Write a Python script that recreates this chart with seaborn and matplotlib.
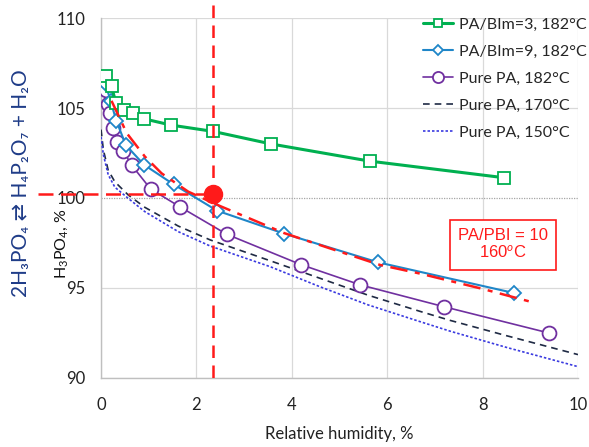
import matplotlib
matplotlib.use("Agg")
import matplotlib.pyplot as plt
import pandas as pd
import seaborn as sns

# Measured water uptake data: relative humidity (%) vs. H3PO4 concentration (%)
rh_bim3 = [0.10, 0.22, 0.31, 0.49, 0.68, 0.90, 1.47, 2.35, 3.57, 5.63, 8.44]
pa_bim3 = [106.8, 106.2, 105.3, 104.9, 104.7, 104.4, 104.05, 103.7, 103.0, 102.05, 101.13]

rh_bim9 = [0.09, 0.20, 0.32, 0.52, 0.90, 1.52, 2.43, 3.84, 5.80, 8.66]
pa_bim9 = [106.37, 105.4, 104.3, 102.94, 101.85, 100.76, 99.3, 98.02, 96.43, 94.72]

rh_pa182 = [0.10, 0.15, 0.19, 0.245, 0.34, 0.47, 0.64, 1.04, 1.66, 2.64, 4.19, 5.44, 7.19, 9.39]
pa_pa182 = [106.0, 105.2, 104.7, 103.9, 103.1, 102.6, 101.83, 100.5, 99.5, 97.98, 96.3, 95.17, 93.96, 92.5]

rh_pa170 = [0.0, 0.05, 0.15, 0.29, 0.57, 0.92, 1.62, 2.29, 3.54, 4.59, 5.6, 6.69, 7.32, 8.5, 10.0]
pa_pa170 = [103.8, 102.67, 101.55, 100.9, 100.17, 99.48, 98.44, 97.67, 96.52, 95.54, 94.6, 93.7, 93.2, 92.35, 91.3]

rh_pa150 = [0.0, 0.05, 0.15, 0.29, 0.57, 0.92, 1.62, 2.29, 3.54, 4.59, 5.6, 6.69, 7.32, 8.5, 10.0]
pa_pa150 = [103.4, 102.4, 101.3, 100.6, 99.98, 99.24, 98.13, 97.33, 96.19, 95.07, 94.06, 93.13, 92.6, 91.7, 90.63]

# PA/PBI = 10 membrane at 160 °C
rh_pbi = [0.22, 0.54, 0.92, 1.27, 1.83, 2.49, 3.19, 3.84, 4.8, 5.85, 6.69, 8.0, 9.0]
pa_pbi = [105.4, 103.6, 102.3, 101.37, 100.35, 99.56, 98.78, 98.05, 97.2, 96.28, 95.8, 94.95, 94.24]

# Operating point
op_rh = 2.35
op_pa = 100.2

series_labels = ["PA/BIm=3, 182°C", "PA/BIm=9, 182°C", "Pure PA, 182°C",
                 "Pure PA, 170°C", "Pure PA, 150°C"]

x_ticks = [0, 2, 4, 6, 8, 10]
y_ticks = [90, 95, 100, 105, 110]

sns.set_style("white")
plt.rcParams['font.family'] = ['Lato', 'DejaVu Sans']
plt.rcParams['mathtext.fontset'] = 'custom'
plt.rcParams['mathtext.rm'] = 'Lato'
plt.rcParams['mathtext.it'] = 'Lato:italic'
plt.rcParams['mathtext.bf'] = 'Lato:bold'

fig = plt.figure(figsize=(5.89, 4.47), dpi=100)
ax = fig.add_axes([0.1715, 0.1544, 0.8098, 0.8053])

green = "#00b050"
blue = "#1f86c8"
purple = "#7030a0"
navy = "#1f2a44"
dotblue = "#3a3ae0"
red = "#ff1a1a"

df170 = pd.DataFrame({"rh": rh_pa170, "pa": pa_pa170})
df150 = pd.DataFrame({"rh": rh_pa150, "pa": pa_pa150})
df182 = pd.DataFrame({"rh": rh_pa182, "pa": pa_pa182})
df9 = pd.DataFrame({"rh": rh_bim9, "pa": pa_bim9})
df3 = pd.DataFrame({"rh": rh_bim3, "pa": pa_bim3})
dfpbi = pd.DataFrame({"rh": rh_pbi, "pa": pa_pbi})

sns.lineplot(data=df170, x="rh", y="pa", ax=ax, sort=False, estimator=None,
             color=navy, linestyle=(0, (4, 3)), linewidth=1.2, label=series_labels[3], zorder=3)
sns.lineplot(data=df150, x="rh", y="pa", ax=ax, sort=False, estimator=None,
             color=dotblue, linestyle=(0, (1.5, 1.2)), linewidth=1.2, label=series_labels[4], zorder=3)
sns.lineplot(data=df182, x="rh", y="pa", ax=ax, sort=False, estimator=None,
             color=purple, linewidth=1.2, marker="o", markersize=10,
             markerfacecolor="white", markeredgecolor=purple, markeredgewidth=1.3,
             label=series_labels[2], zorder=4)
sns.lineplot(data=df9, x="rh", y="pa", ax=ax, sort=False, estimator=None,
             color=blue, linewidth=1.5, marker="D", markersize=7,
             markerfacecolor="white", markeredgecolor=blue, markeredgewidth=1.3,
             label=series_labels[1], zorder=5)
sns.lineplot(data=df3, x="rh", y="pa", ax=ax, sort=False, estimator=None,
             color=green, linewidth=2.2, marker="s", markersize=8,
             markerfacecolor="white", markeredgecolor=green, markeredgewidth=1.3,
             label=series_labels[0], zorder=6)
sns.lineplot(data=dfpbi, x="rh", y="pa", ax=ax, sort=False, estimator=None,
             color=red, linestyle=(0, (7, 3, 2, 3)), linewidth=1.8,
             label="_nolegend_", zorder=7)

# Guide lines through the operating point
ax.plot([op_rh, op_rh], [110.7, 89.7], color=red, linestyle=(0, (5, 3)),
        linewidth=1.8, clip_on=False, zorder=8)
ax.plot([-1.32, op_rh], [op_pa, op_pa], color=red, linestyle=(0, (6, 3)),
        linewidth=1.8, clip_on=False, zorder=8)
ax.plot([op_rh], [op_pa], marker="o", markersize=13, color=red,
        markeredgecolor=red, zorder=9, clip_on=False)

ax.set_xlim(0, 10)
ax.set_ylim(90, 110)
ax.set_xticks(x_ticks)
ax.set_yticks(y_ticks)
ax.set_xticks([1, 3, 5, 7, 9], minor=True)
ax.set_yticks([v for v in range(90, 111) if v % 5], minor=True)

ax.grid(True, which="major", color="#d9d9d9", linewidth=0.9)
ax.set_axisbelow(True)
for gl, v in zip(ax.get_ygridlines(), y_ticks):
    if v == 100:
        gl.set_color("#a6a6a6")
        gl.set_linestyle((0, (1, 1)))

for side in ["top", "right"]:
    ax.spines[side].set_visible(False)
for side in ["left", "bottom"]:
    ax.spines[side].set_color("#bfbfbf")
    ax.spines[side].set_linewidth(1.0)

ax.tick_params(axis="both", which="major", length=0, labelsize=12, colors="#222222")
ax.tick_params(axis="x", which="major", pad=14)
ax.tick_params(axis="y", which="major", pad=11)
ax.tick_params(axis="both", which="minor", direction="in", length=4,
               color="#bfbfbf", width=1.0)

ax.set_xlabel("Relative humidity, %", fontsize=12, labelpad=9, color="#222222")
ax.set_ylabel("")

fig.text(0.105, 0.455, r"H$_3$PO$_4$, %", rotation=90, ha="center", va="center",
         fontsize=11.5, color="#111111")
fig.text(0.036, 0.59, "2H₃PO₄ ⇄ H₄P₂O₇ + H₂O", rotation=90,
         ha="center", va="center", fontsize=15, color="#1f3c88",
         family=["Lato", "DejaVu Sans"])

ax.text(8.43, 97.4, "PA/PBI = 10\n160$^{o}$C", ha="center", va="center",
        fontsize=12, color=red, family=["Liberation Sans", "DejaVu Sans"],
        linespacing=1.1,
        bbox=dict(boxstyle="square,pad=0.5", facecolor="white", edgecolor=red,
                  linewidth=1.2), zorder=10)

handles, labels = ax.get_legend_handles_labels()
lookup = dict(zip(labels, handles))
ax.legend([lookup[l] for l in series_labels], series_labels,
          loc="upper right", bbox_to_anchor=(0.997, 0.96),
          bbox_transform=fig.transFigure, frameon=False, fontsize=11.5,
          handlelength=1.9, handletextpad=0.4, labelspacing=0.8,
          borderpad=0, borderaxespad=0, markerscale=0.8)

fig.savefig("out.png", dpi=100)
